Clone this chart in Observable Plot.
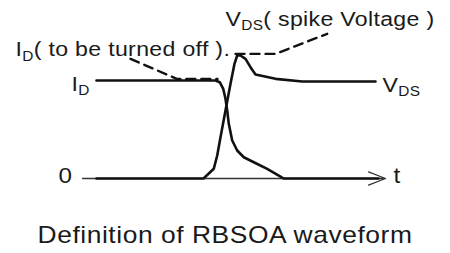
<!DOCTYPE html>
<html>
<head>
<meta charset="utf-8">
<script src="https://cdn.jsdelivr.net/npm/d3@7"></script>
<script src="https://cdn.jsdelivr.net/npm/@observablehq/plot@0.6"></script>
<style>
  body { margin: 0; background: #fff; }
  #wrap { width: 450px; height: 253px; overflow: hidden; font-family: "Liberation Sans", Arial, sans-serif; }
  #title { font-size: 24px; line-height: 24px; letter-spacing: 0.5px; color: #1a1a1a; text-align: center; margin-top: 13px; white-space: nowrap; transform: scaleX(1.1); transform-origin: 225px 0; }
</style>
</head>
<body>
<div id="wrap"></div>
<script>
// ---- data (time in arbitrary units, level normalised so I_D = 1) ----
const currentTime  = [4.33, 44, 45.43, 46.57, 47.33, 47.9, 48.43, 49.57, 51.23, 53.43, 56.77, 61.23, 65.67, 66.67, 98.33];
const currentLevel = [1, 1, 0.983, 0.915, 0.813, 0.694, 0.558, 0.388, 0.286, 0.217, 0.166, 0.099, 0.02, 0, 0];

const voltageTime  = [4.33, 40, 43.43, 44.57, 45.67, 47.33, 49, 50.33, 51.23, 52.33, 54, 55.67, 57.33, 64, 72.9, 97.33];
const voltageLevel = [0, 0, 0.099, 0.235, 0.421, 0.694, 0.966, 1.17, 1.255, 1.255, 1.221, 1.136, 1.061, 1.017, 0.99, 0.99];

const turnOffGuideTime  = [15.67, 31.23, 44.67];
const turnOffGuideLevel = [1.221, 1.015, 1.015];

const spikeGuideTime  = [50.67, 64, 81.23];
const spikeGuideLevel = [1.272, 1.272, 1.476];

const axisStart = -0.33;
const axisEnd = 100.67;

const labelText  = ["I_{D}( to be turned off ).", "V_{DS}( spike Voltage )", "I_{D}", "V_{DS}"];
const labelTime  = [-22.67, 47.33, -4, 99.67];
const labelLevel = [1.245, 1.561, 0.888, 0.878];

const tickText  = ["0", "t"];
const tickTime  = [-8.33, 103.33];
const tickLevel = [-0.051, -0.051];

const titleText = "Definition of RBSOA waveform";

// ---- build tables ----
const zip = (xs, ys) => xs.map((t, i) => ({t, v: ys[i]}));
const current = zip(currentTime, currentLevel);
const voltage = zip(voltageTime, voltageLevel);
const guide1 = zip(turnOffGuideTime, turnOffGuideLevel);
const guide2 = zip(spikeGuideTime, spikeGuideLevel);
const labels = labelText.map((text, i) => ({text, t: labelTime[i], v: labelLevel[i]}));
const ticks = tickText.map((text, i) => ({text, t: tickTime[i], v: tickLevel[i]}));

const font = "'Liberation Sans', Arial, sans-serif";
const ink = "#111";
const textInk = "#1a1a1a";

const plot = Plot.plot({
  width: 450,
  height: 210,
  marginLeft: 83,
  marginRight: 67,
  marginTop: 1.6,
  marginBottom: 32,
  x: {domain: [0, 100], axis: null},
  y: {domain: [0, 1.8], axis: null},
  style: {fontFamily: font, background: "transparent", overflow: "visible"},
  marks: [
    Plot.arrow([{x1: axisStart, x2: axisEnd}], {x1: "x1", x2: "x2", y: 0, stroke: "#333", strokeWidth: 1.3, headLength: 21, headAngle: 42}),
    Plot.line(guide1, {x: "t", y: "v", stroke: ink, strokeWidth: 2.4, strokeDasharray: "9,6"}),
    Plot.line(guide2, {x: "t", y: "v", stroke: ink, strokeWidth: 2.4, strokeDasharray: "9,6"}),
    Plot.line(current, {x: "t", y: "v", stroke: ink, strokeWidth: 2.6, strokeLinejoin: "round"}),
    Plot.line(voltage, {x: "t", y: "v", stroke: ink, strokeWidth: 2.6, strokeLinejoin: "round"}),
    Plot.text(labels, {x: "t", y: "v", text: "text", textAnchor: "start", lineAnchor: "bottom", fontSize: 21, fill: textInk}),
    Plot.text(ticks, {x: "t", y: "v", text: "text", textAnchor: "start", lineAnchor: "bottom", fontSize: 22, fill: textInk})
  ]
});

// subscripts as tspans, slightly widened glyphs like the reference
d3.select(plot).selectAll("text").each(function() {
  const tr = this.getAttribute("transform") || "";
  this.setAttribute("transform", tr + " scale(1.1,1)");
  this.style.letterSpacing = "0.3px";
  const m = this.textContent.match(/^(.*?)_\{(.*?)\}(.*)$/);
  if (!m) return;
  this.textContent = "";
  const sel = d3.select(this);
  sel.append("tspan").text(m[1]);
  sel.append("tspan").attr("font-size", 14).attr("dy", 4).text(m[2]);
  if (m[3]) sel.append("tspan").attr("dy", -4).text(m[3]);
});

const wrap = document.getElementById("wrap");
wrap.appendChild(plot);
const title = document.createElement("div");
title.id = "title";
title.textContent = titleText;
wrap.appendChild(title);
</script>
</body>
</html>
